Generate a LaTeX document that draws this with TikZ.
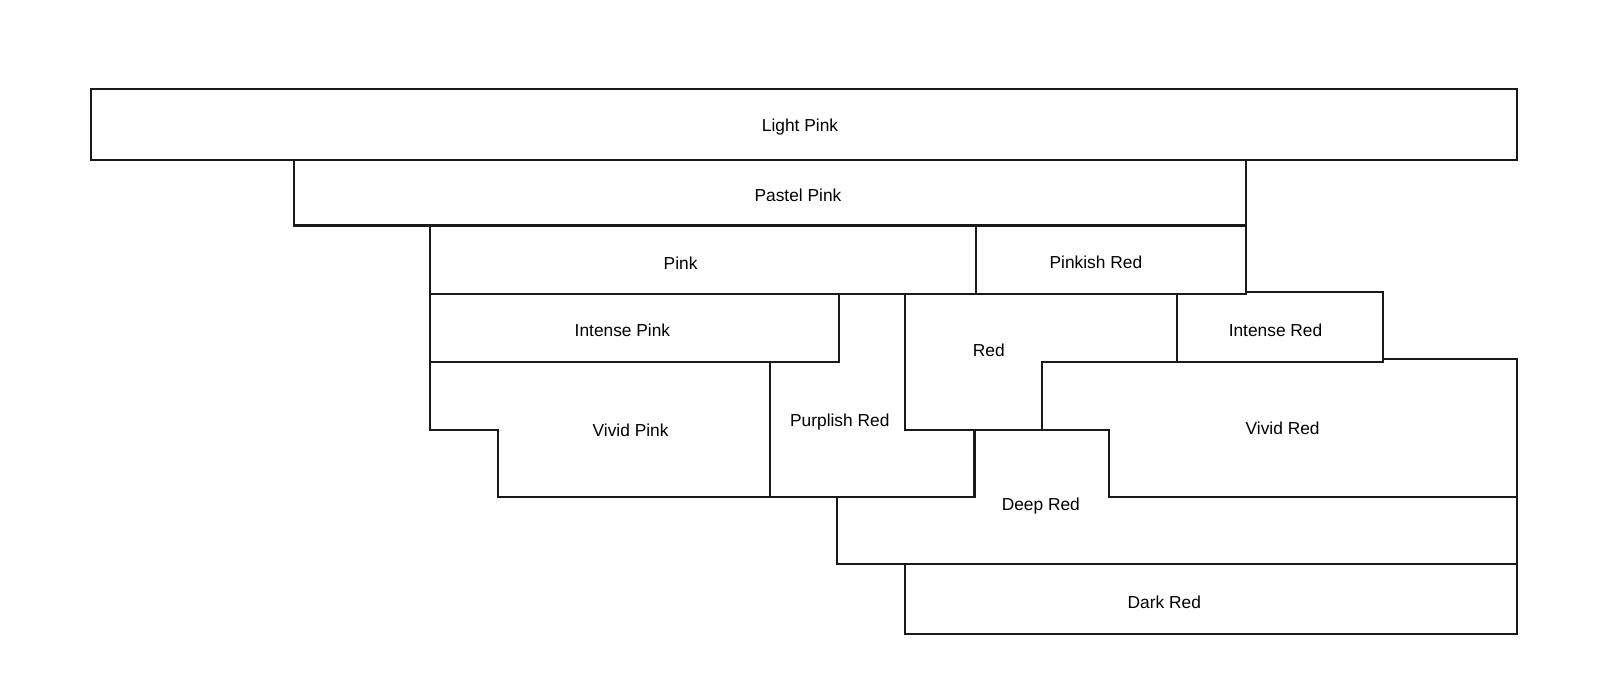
\documentclass[tikz,border=0pt]{standalone}
\usepackage{fontspec}
\setmainfont{Liberation Sans}
\begin{document}
\begin{tikzpicture}[x=1pt,y=-1pt,
  region/.style={draw=black!90,line width=2pt,line join=miter},
  lbl/.style={font=\fontsize{17}{19}\selectfont,inner sep=0pt,yshift=-2pt}]
\useasboundingbox (0,0) rectangle (1568,667);
% regions
\draw[region] (89,87) rectangle (1487,157);
\draw[region] (288,157) rectangle (1221,221);
\draw[region] (421,221) rectangle (956,288);
\draw[region] (956,221) rectangle (1221,288);
\draw[region] (421,288) rectangle (822,355);
\draw[region] (421,355) -- (755,355) -- (755,487) -- (488,487) -- (488,421) -- (421,421) -- cycle;
\draw[region] (755,355) -- (822,355) -- (822,288) -- (887,288) -- (887,421) -- (955,421) -- (955,487) -- (755,487) -- cycle;
\draw[region] (887,288) -- (1153,288) -- (1153,355) -- (1021,355) -- (1021,421) -- (887,421) -- cycle;
\draw[region] (1153,288) -- (1221,288) -- (1221,286) -- (1355,286) -- (1355,355) -- (1153,355) -- cycle;
\draw[region] (1021,355) -- (1355,355) -- (1355,352) -- (1487,352) -- (1487,487) -- (1087,487) -- (1087,421) -- (1021,421) -- cycle;
\draw[region] (955,421) -- (1087,421) -- (1087,487) -- (1487,487) -- (1487,553) -- (820,553) -- (820,487) -- (955,487) -- cycle;
\draw[region] (887,553) rectangle (1487,621);
% labels
\node[lbl] (lp) at (784,122) {Light Pink};
\node[lbl] (pp) at (782,189) {Pastel Pink};
\node[lbl] (pk) at (667,256) {Pink};
\node[lbl] (pr) at (1074,255) {Pinkish Red};
\node[lbl] (ip) at (610,322) {Intense Pink};
\node[lbl] (vp) at (618,420) {Vivid Pink};
\node[lbl] (pu) at (823,412) {Purplish Red};
\node[lbl] (rd) at (969,341) {Red};
\node[lbl] (ir) at (1250,322) {Intense Red};
\node[lbl] (vr) at (1257,418) {Vivid Red};
\node[lbl] (dr) at (1020,494) {Deep Red};
\node[lbl] (dk) at (1141,588) {Dark Red};
\end{tikzpicture}
\end{document}
